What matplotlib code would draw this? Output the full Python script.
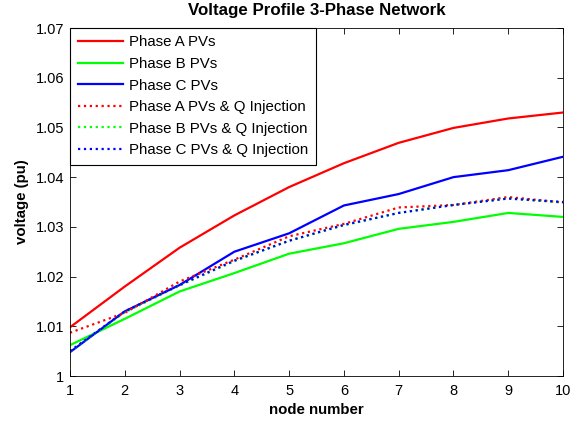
import matplotlib
matplotlib.use("Agg")
import matplotlib.pyplot as plt

nodes = [1, 2, 3, 4, 5, 6, 7, 8, 9, 10]
phase_a = [1.0098, 1.0180, 1.0258, 1.0323, 1.0380, 1.0428, 1.0469, 1.0499, 1.0518, 1.0530]
phase_b = [1.0062, 1.0115, 1.0170, 1.0207, 1.0246, 1.0267, 1.0296, 1.0310, 1.0328, 1.0320]
phase_c = [1.0048, 1.0130, 1.0183, 1.0250, 1.0287, 1.0343, 1.0366, 1.0400, 1.0414, 1.0441]
phase_a_q = [1.0087, 1.0127, 1.0190, 1.0234, 1.0281, 1.0306, 1.0339, 1.0344, 1.0360, 1.0349]
phase_b_q = [1.0050, 1.0128, 1.0182, 1.0231, 1.0272, 1.0303, 1.0328, 1.0344, 1.0357, 1.0349]
phase_c_q = [1.0050, 1.0130, 1.0183, 1.0232, 1.0272, 1.0304, 1.0328, 1.0344, 1.0357, 1.0350]

plt.rcParams['font.family'] = ['Liberation Sans', 'DejaVu Sans']

fig = plt.figure(figsize=(5.85, 4.21), dpi=100)
ax = fig.add_axes([70/585, 1-376/421, (563-70)/585, (376-28)/421])

lw = 1.6
ax.plot(nodes, phase_a, color='#ff0000', lw=lw, label='Phase A PVs')
ax.plot(nodes, phase_b, color='#00ff00', lw=lw, label='Phase B PVs')
ax.plot(nodes, phase_c, color='#0000ff', lw=lw, label='Phase C PVs')
ax.plot(nodes, phase_a_q, color='#ff0000', lw=lw, ls=':', label='Phase A PVs & Q Injection')
ax.plot(nodes, phase_b_q, color='#00ff00', lw=lw, ls=':', label='Phase B PVs & Q Injection')
ax.plot(nodes, phase_c_q, color='#0000ff', lw=lw, ls=':', label='Phase C PVs & Q Injection')

ax.set_xlim(1, 10)
ax.set_ylim(1.0, 1.07)
ax.set_xticks(nodes)
yt = [1.0, 1.01, 1.02, 1.03, 1.04, 1.05, 1.06, 1.07]
ax.set_yticks(yt)
ax.set_yticklabels(['1', '1.01', '1.02', '1.03', '1.04', '1.05', '1.06', '1.07'])
ax.tick_params(direction='in', top=True, right=True, labelsize=10.5, length=4, width=0.6)
ax.tick_params(axis='x', pad=6)
ax.tick_params(axis='y', pad=4)
for s in ax.spines.values():
    s.set_linewidth(0.6)

ax.set_xlabel('node number', fontsize=10.8, fontweight='bold', labelpad=3)
ax.set_ylabel('voltage (pu)', fontsize=10.8, fontweight='bold', labelpad=5)
ax.set_title('Voltage Profile 3-Phase Network', fontsize=12.2, fontweight='bold', pad=9)

leg = ax.legend(loc='upper left', fontsize=10.8, frameon=True, fancybox=False,
                edgecolor='black', framealpha=1, borderaxespad=0.0,
                handlelength=3.0, labelspacing=0.5, borderpad=0.5, handletextpad=0.45)
leg.get_frame().set_linewidth(0.8)

fig.savefig('out.png', dpi=100)
